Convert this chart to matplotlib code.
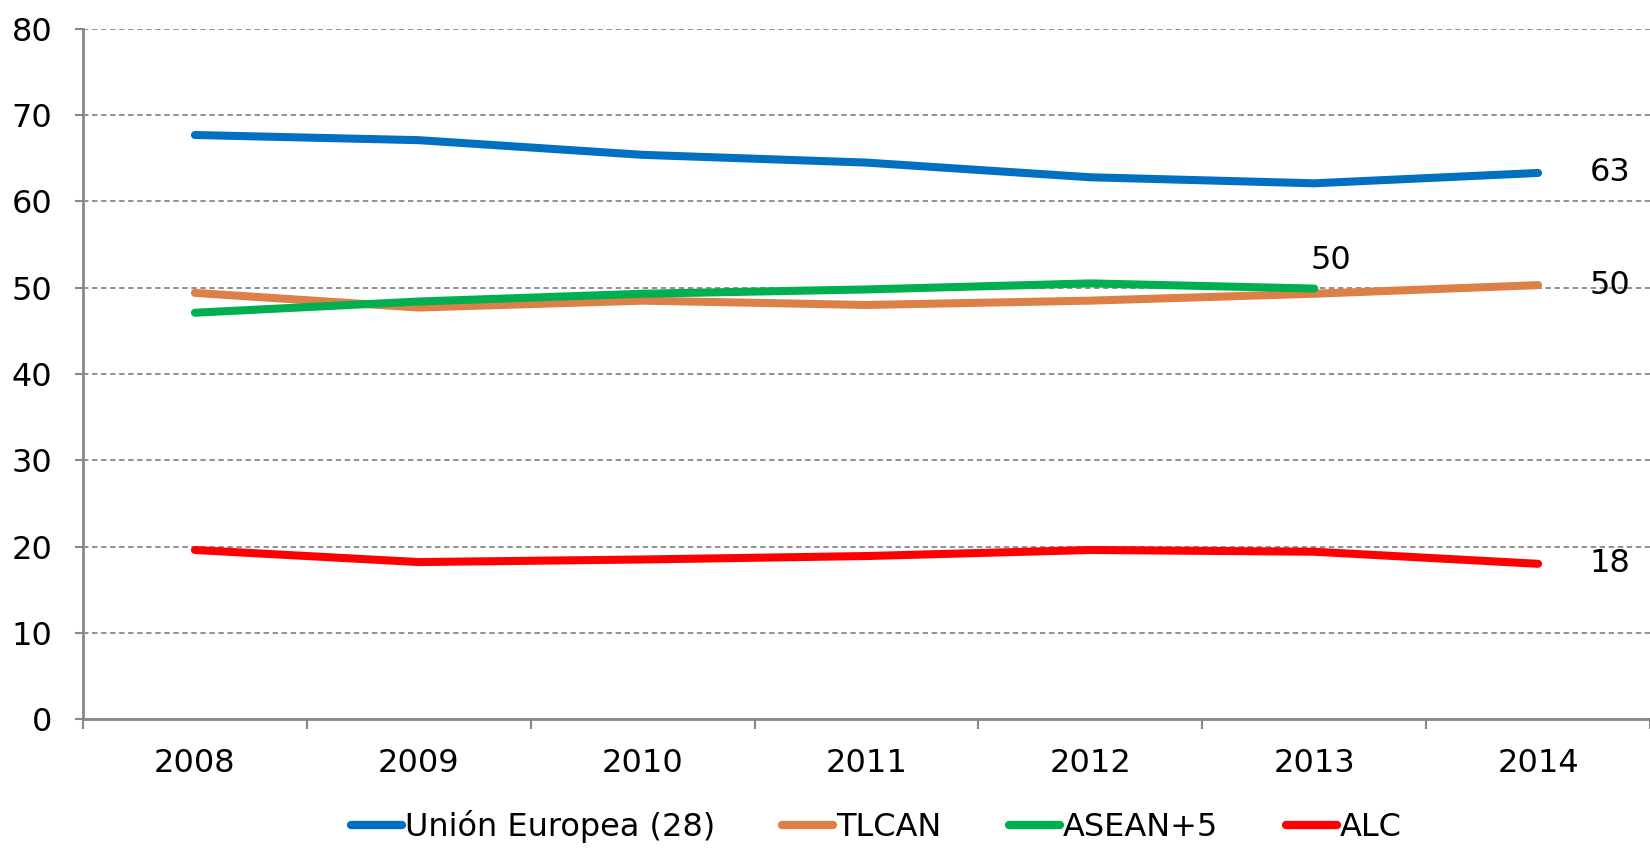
import numpy as np
import matplotlib.pyplot as plt

plt.rcParams['font.family'] = ['DejaVu Sans']

years = ['2008', '2009', '2010', '2011', '2012', '2013', '2014']
ue = [67.7, 67.1, 65.4, 64.5, 62.8, 62.1, 63.3]
tlcan = [49.4, 47.7, 48.5, 48.0, 48.5, 49.3, 50.3]
asean = [47.1, 48.4, 49.3, 49.8, 50.5, 49.9]
alc = [19.6, 18.2, 18.5, 18.9, 19.6, 19.4, 18.0]

series = [
    ('Unión Europea (28)', ue, '#0070C0'),
    ('TLCAN', tlcan, '#DD8047'),
    ('ASEAN+5', asean, '#00B050'),
    ('ALC', alc, '#FF0000'),
]

fs = 23

fig = plt.figure(figsize=(16.5, 8.49), dpi=100)
ax = fig.add_axes([0.0503, 0.153, 0.9497, 0.813])

x = np.arange(len(years))
for name, vals, col in series:
    ax.plot(x[:len(vals)], vals, color=col, lw=5.8, solid_capstyle='round',
            label=name, zorder=3)

# end labels
for vals in (ue, tlcan, alc):
    ax.annotate(f'{vals[-1]:.0f}', (x[len(vals) - 1], vals[-1]), xytext=(37, 0),
                textcoords='offset points', va='center', ha='left', fontsize=fs)
ax.annotate(f'{asean[-1]:.0f}', (x[len(asean) - 1], asean[-1]), xytext=(12, 9),
            textcoords='offset points', va='bottom', ha='center', fontsize=fs)

ax.set_xlim(-0.5, 6.5)
ax.set_ylim(0, 80)
ax.set_yticks(np.arange(0, 81, 10))
ax.set_xticks(x)
ax.set_xticklabels(years)
ax.set_xticks(np.arange(-0.5, 7, 1), minor=True)
ax.tick_params(axis='x', which='major', length=0, pad=21, labelsize=fs)
ax.tick_params(axis='x', which='minor', length=7, width=1.5, color='#888888', direction='out')
ax.tick_params(axis='y', length=6, width=1.5, color='#888888', labelsize=fs, pad=16)

ax.yaxis.grid(True, linestyle=(0, (3, 2)), color='#888888', lw=1.3)
ax.set_axisbelow(True)
for s in ['top', 'right']:
    ax.spines[s].set_visible(False)
for s in ['left', 'bottom']:
    ax.spines[s].set_color('#888888')
    ax.spines[s].set_linewidth(2)

leg = fig.legend(loc='center', bbox_to_anchor=(0.531, 0.026), ncol=4, frameon=False,
                 fontsize=fs, handlelength=1.6, handletextpad=0.1, columnspacing=2.1)
for h in leg.get_lines():
    h.set_linewidth(6)

fig.savefig('out.png', dpi=100)
